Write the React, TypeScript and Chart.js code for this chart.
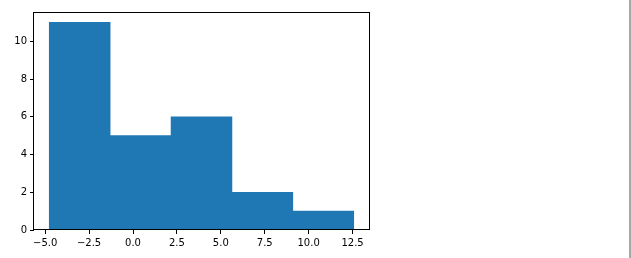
import React, { useEffect, useRef } from "react";
import { Chart, registerables } from "chart.js";

Chart.register(...registerables);

const binEdges = [-4.77, -1.3, 2.17, 5.63, 9.1, 12.57];
const counts = [11, 5, 6, 2, 1];
const xTickValues = [-5, -2.5, 0, 2.5, 5, 7.5, 10, 12.5];
const xTickLabels = ["\u22125.0", "\u22122.5", "0.0", "2.5", "5.0", "7.5", "10.0", "12.5"];
const yTickValues = [0, 2, 4, 6, 8, 10];
const yTickLabels = ["0", "2", "4", "6", "8", "10"];

const boxPlugin = {
  id: "boxPlugin",
  afterDraw(chart: any) {
    const { ctx, chartArea } = chart;
    ctx.save();
    ctx.strokeStyle = "#000";
    ctx.lineWidth = 1;
    ctx.strokeRect(
      Math.round(chartArea.left) - 0.5,
      Math.round(chartArea.top) + 0.5,
      Math.round(chartArea.right - chartArea.left) + 1,
      Math.round(chartArea.bottom - chartArea.top) - 1
    );
    ctx.restore();
  },
};

export default function App() {
  const ref = useRef<HTMLCanvasElement>(null);
  useEffect(() => {
    if (!ref.current) return;
    const lo = binEdges[0];
    const hi = binEdges[binEdges.length - 1];
    const margin = (hi - lo) * 0.05;
    const yMax = Math.max(...counts) * 1.05;
    const centers = counts.map((_, i) => (binEdges[i] + binEdges[i + 1]) / 2);
    const data = counts.map((c, i) => ({ x: centers[i], y: c }));
    const font = { family: "'DejaVu Sans'", size: 10 };
    const chart = new Chart(ref.current, {
      type: "bar",
      data: {
        datasets: [
          {
            data: data as any,
            xAxisID: "xb",
            backgroundColor: "#1f77b4",
            borderWidth: 0,
            barPercentage: 1,
            categoryPercentage: 1,
          },
        ],
      },
      options: {
        animation: false,
        responsive: false,
        layout: { padding: { left: 0, top: 12, right: 262, bottom: 0 } },
        plugins: { legend: { display: false }, tooltip: { enabled: false } },
        scales: {
          xb: {
            type: "linear",
            display: false,
            min: lo - margin,
            max: hi + margin,
            offset: false,
            grid: { offset: false },
            afterBuildTicks: (s: any) => {
              s.ticks = centers.map((v) => ({ value: v }));
            },
          },
          x: {
            type: "linear",
            position: "bottom",
            min: lo - margin,
            max: hi + margin,
            offset: false,
            grid: { offset: false, drawOnChartArea: false, drawTicks: true, tickLength: 4, color: "#000" },
            border: { display: false },
            afterBuildTicks: (s: any) => {
              s.ticks = xTickValues.map((v) => ({ value: v }));
            },
            afterFit: (s: any) => {
              s.height = 28;
            },
            ticks: {
              autoSkip: false,
              maxRotation: 0,
              color: "#000",
              font,
              padding: 3,
              callback: (v: any) => {
                const i = xTickValues.indexOf(Number(v));
                return i >= 0 ? xTickLabels[i] : "";
              },
            },
          },
          y: {
            type: "linear",
            min: 0,
            max: yMax,
            grid: { drawOnChartArea: false, drawTicks: true, tickLength: 4, color: "#000" },
            border: { display: false },
            afterBuildTicks: (s: any) => {
              s.ticks = yTickValues.map((v) => ({ value: v }));
            },
            afterFit: (s: any) => {
              s.width = 34;
            },
            ticks: {
              autoSkip: false,
              color: "#000",
              font,
              padding: 3,
              callback: (v: any) => {
                const i = yTickValues.indexOf(Number(v));
                return i >= 0 ? yTickLabels[i] : "";
              },
            },
          },
        },
      },
      plugins: [boxPlugin],
    });
    return () => chart.destroy();
  }, []);
  return (
    <div style={{ position: "absolute", left: 0, top: 0, width: 631, height: 258, background: "#fff" }}>
      <canvas ref={ref} width={631} height={258} style={{ display: "block" }} />
      <div style={{ position: "absolute", left: 629, top: 0, width: 2, height: 258, background: "#a8a8a8" }} />
    </div>
  );
}
